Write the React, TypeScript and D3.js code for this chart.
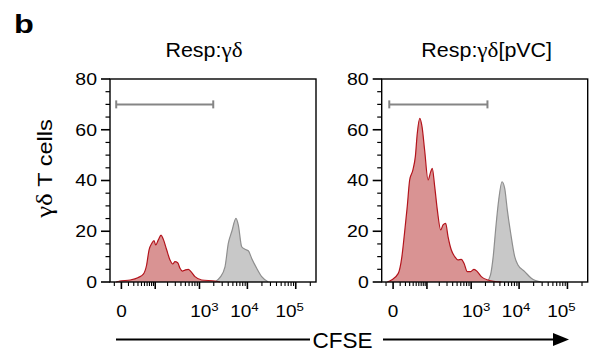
import React from "react";
import * as d3 from "d3";

// ---- data (CFSE intensity, count) ----
const leftRedX = [-7, -2, 13, 31, 46, 58, 68, 81, 93, 103, 120, 140, 159, 191, 227, 262, 295, 339, 381, 428, 490, 578, 660, 804, 1115, 2122, 2698];
const leftRedY = [0, 0.4, 0.8, 1.8, 3.1, 6.7, 12.6, 15.2, 16.3, 14.6, 16.6, 18.5, 16.8, 12.6, 8.7, 7.1, 8.0, 7.6, 5.4, 4.3, 4.7, 5.0, 4.1, 2.1, 0.8, 0.4, 0];
const leftGrayX = [2122, 2698, 3430, 4017, 4725, 5805, 6478, 7620, 8920, 10440, 12280, 15585, 19780, 27070];
const leftGrayY = [0, 1.8, 6, 15.2, 19.8, 25.1, 22.5, 13.9, 12.9, 12.3, 9.3, 5.4, 2.1, 0];

const rightRedX = [-8, -2, 7, 13, 18, 24, 30, 39, 47, 54, 64, 74, 87, 107, 125, 136, 156, 180, 216, 244, 280, 316, 374, 444, 523, 616, 704, 828, 978, 1149, 1348, 1635, 2260, 4275];
const rightRedY = [0, 0.8, 3.4, 10, 19.2, 29.7, 40.2, 44.1, 49.4, 58.6, 64.5, 61.2, 52, 40.2, 43.5, 44.8, 37.6, 28.4, 20.5, 22.5, 23.1, 17.9, 12.6, 10, 8.7, 8.9, 7.4, 4.1, 4.1, 5, 4.1, 2.1, 0.8, 0];
const rightGrayX = [2150, 2550, 2900, 3300, 3775, 4422, 5030, 5695, 6700, 8110, 9490, 13065, 17900, 28800];
const rightGrayY = [0, 2.8, 10, 21.8, 32.3, 39.5, 36.9, 28.4, 19.2, 10, 6.7, 4.1, 1.5, 0];

const leftGate = [-7, 1950];
const rightGate = [-5, 2200];
const gateLevel = 70;

const titles = ["Resp:", "Resp:"];
const titleGreek = ["γδ", "γδ"];
const titleSuffix = ["", "[pVC]"];

const yMajor = [0, 20, 40, 60, 80];
const yMinor = [5, 10, 15, 25, 30, 35, 45, 50, 55, 65, 70, 75];
const xMajor = [0, 100, 1000, 10000, 100000];
const xMinor = [-10, 10, 20, 30, 40, 50, 60, 70, 80, 90, 200, 300, 400, 500, 600, 700, 800, 900,
  2000, 3000, 4000, 5000, 6000, 7000, 8000, 9000, 20000, 30000, 40000, 50000, 60000, 70000, 80000, 90000, 200000];
const xLabels = [0, 1000, 10000, 100000];
const xLabelExp = ["", "3", "4", "5"];

// ---- layout ----
const W = 599, H = 359;
const panelLefts = [110, 381.7];
const panelW = 206;
const top = 79, bottom = 282;
const titleDx = [94, 105];
const labelNudge = [0, 5, -3, -6];

const FONT = "'Liberation Sans', Arial, Helvetica, sans-serif";
const SERIF = "'Liberation Serif', 'Times New Roman', serif";

const panels = [
  { redX: leftRedX, redY: leftRedY, grayX: leftGrayX, grayY: leftGrayY, gate: leftGate },
  { redX: rightRedX, redY: rightRedY, grayX: rightGrayX, grayY: rightGrayY, gate: rightGate },
];

function Panel({ idx }: { idx: number }) {
  const p = panels[idx];
  const L = panelLefts[idx];
  const x = d3.scaleSymlog().constant(25).domain([-18, 262144]).range([L, L + panelW]);
  const y = d3.scaleLinear().domain([0, 80]).range([bottom, top]);
  const area = d3.area<[number, number]>().x(d => x(d[0])).y0(bottom).y1(d => y(d[1])).curve(d3.curveMonotoneX);
  const line = d3.line<[number, number]>().x(d => x(d[0])).y(d => y(d[1])).curve(d3.curveMonotoneX);
  const red: [number, number][] = p.redX.map((v, i) => [v, p.redY[i]]);
  const gray: [number, number][] = p.grayX.map((v, i) => [v, p.grayY[i]]);
  const gy = y(gateLevel);
  return (
    <g>
      <path d={area(gray) || ""} fill="#c8c8c8" />
      <path d={line(gray) || ""} fill="none" stroke="#8e8e8e" strokeWidth={1.2} />
      <path d={area(red) || ""} fill="#d99393" />
      <path d={line(red) || ""} fill="none" stroke="#b3141c" strokeWidth={1.2} />
      {/* gate */}
      <g stroke="#858585" strokeWidth={2}>
        <line x1={x(p.gate[0])} x2={x(p.gate[1])} y1={gy} y2={gy} />
        <line x1={x(p.gate[0])} x2={x(p.gate[0])} y1={gy - 4} y2={gy + 4} />
        <line x1={x(p.gate[1])} x2={x(p.gate[1])} y1={gy - 4} y2={gy + 4} />
      </g>
      {/* frame */}
      <rect x={L} y={top} width={panelW} height={bottom - top} fill="none" stroke="#000" strokeWidth={1.4} />
      {/* y ticks */}
      {yMajor.map(t => (
        <g key={"ym" + t}>
          <line x1={L - 9} x2={L} y1={y(t)} y2={y(t)} stroke="#000" strokeWidth={1.6} />
          <text transform={`translate(${L - 13},${y(t) + 5.8}) scale(1.18,1)`} textAnchor="end" fontFamily={FONT} fontSize={16.5}>{t}</text>
        </g>
      ))}
      {yMinor.map(t => (
        <line key={"yn" + t} x1={L - 4.5} x2={L} y1={y(t)} y2={y(t)} stroke="#000" strokeWidth={1.2} />
      ))}
      {/* x ticks */}
      {xMajor.map(t => (
        <line key={"xm" + t} x1={x(t)} x2={x(t)} y1={bottom} y2={bottom + 7} stroke="#000" strokeWidth={1.6} />
      ))}
      {xMinor.map(t => (
        <line key={"xn" + t} x1={x(t)} x2={x(t)} y1={bottom} y2={bottom + 4} stroke="#000" strokeWidth={1.1} />
      ))}
      {xLabels.map((t, i) => (
        <text key={"xl" + t} transform={`translate(${x(t) + labelNudge[i]},316.7) scale(1.15,1)`} textAnchor="middle" fontFamily={FONT} fontSize={16.5}>
          {t === 0 ? "0" : "10"}
          {xLabelExp[i] && <tspan fontSize={11.5} dy={-6}>{xLabelExp[i]}</tspan>}
        </text>
      ))}
      {/* title */}
      <text transform={`translate(${L + titleDx[idx]},56.7) scale(1.1,1)`} textAnchor="middle" fontFamily={FONT} fontSize={19.5}>
        {titles[idx]}
        <tspan fontFamily={SERIF} fontSize={21}>{titleGreek[idx]}</tspan>
        {titleSuffix[idx]}
      </text>
    </g>
  );
}

export default function App() {
  return (
    <svg width={W} height={H} style={{ position: "absolute", left: 0, top: 0, background: "#fff" }}>
      <rect width={W} height={H} fill="#fff" />
      <text transform="translate(14,33.3) scale(1.25,1)" fontFamily={FONT} fontWeight="bold" fontSize={26}>b</text>
      <text transform="translate(51.5,168.5) rotate(-90) scale(1.12,1)" textAnchor="middle" fontFamily={FONT} fontSize={21}>
        <tspan fontFamily={SERIF} fontSize={24}>γδ</tspan> T cells
      </text>
      <Panel idx={0} />
      <Panel idx={1} />
      {/* CFSE axis label with arrow */}
      <line x1={116} x2={310} y1={339.5} y2={339.5} stroke="#000" strokeWidth={2} />
      <text transform="translate(342.5,348.3) scale(1.05,1)" textAnchor="middle" fontFamily={FONT} fontSize={21.5}>CFSE</text>
      <line x1={383} x2={556} y1={339.5} y2={339.5} stroke="#000" strokeWidth={2} />
      <polygon points="553,333 569,339.5 553,346" fill="#000" />
    </svg>
  );
}
